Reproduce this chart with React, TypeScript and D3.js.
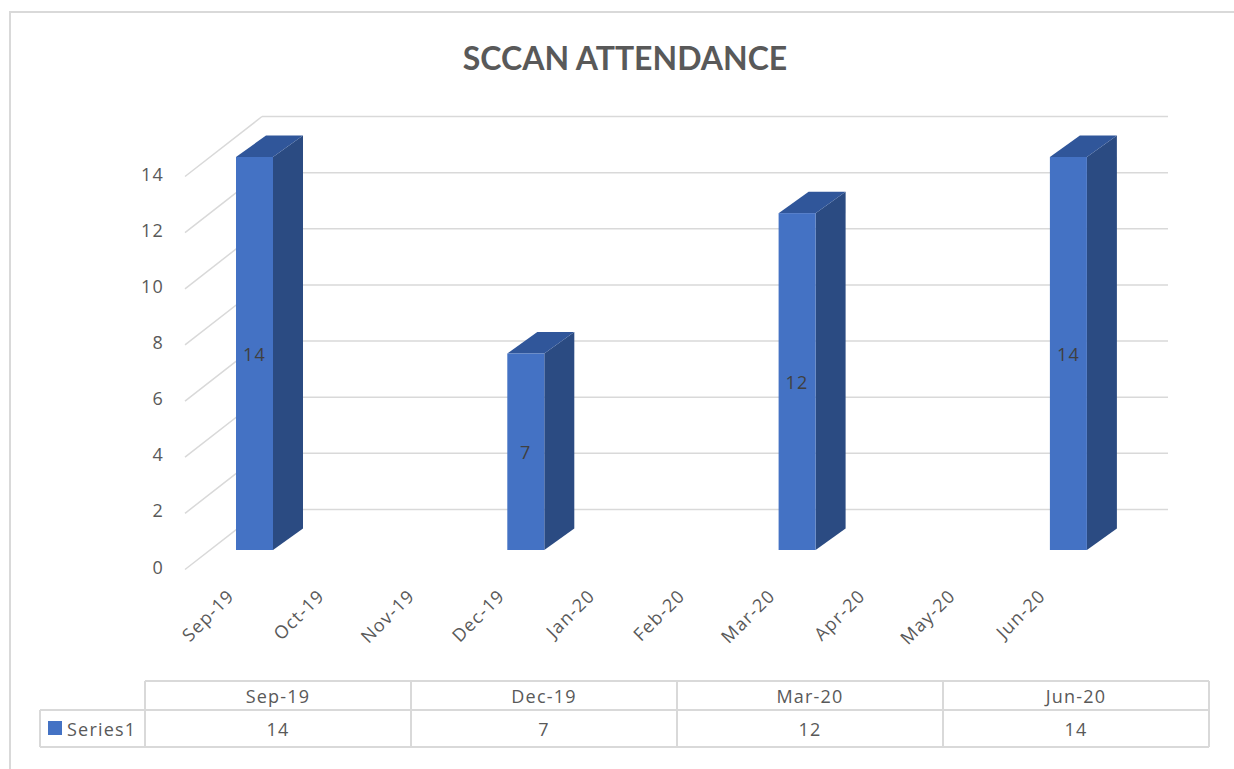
import React from "react";
import * as d3 from "d3";

const title = "SCCAN ATTENDANCE";
const months = ["Sep-19", "Oct-19", "Nov-19", "Dec-19", "Jan-20", "Feb-20", "Mar-20", "Apr-20", "May-20", "Jun-20"];
const seriesName = "Series1";
const dataCats = ["Sep-19", "Dec-19", "Mar-20", "Jun-20"];
const dataValues = [14, 7, 12, 14];
const yTicks = [0, 2, 4, 6, 8, 10, 12, 14];

const W = 1234;
const H = 769;
const FONT = "'Open Sans', Lato, sans-serif";
const TFONT = "Lato, 'Open Sans', sans-serif";
const FS = 18;
const LS = 1.2;
const TXT = "#595959";
const GRID = "#d9d9d9";
const FRONT = "#4472C4";
const SIDE = "#2B4B82";
const TOP = "#30569A";

export default function App() {
  const yBack = d3.scaleLinear().domain([0, 14]).range([509.5, 116.5]);
  const wallDX = 77;
  const wallDY = 60;
  const wallFrontX = 185;
  const wallBackX = wallFrontX + wallDX;
  const wallRight = 1168;

  const x = d3.scalePoint<string>().domain(months).range([254.5, 1068.4]);
  const barW = 37;
  const barDX = 30;
  const barDY = 21.5;
  const barOff = 40.5;

  const tableX = d3.scaleBand<string>().domain(dataCats).range([145, 1209]);
  const tTop = 681;
  const tMid = 710;
  const tBot = 747;
  const tLeft = 40;

  const txt = { fontFamily: FONT, fontSize: FS, fill: TXT, letterSpacing: LS } as const;

  return (
    <svg width={W} height={H} style={{ position: "absolute", left: 0, top: 0, background: "#fff" }}>
      <rect x={10} y={12} width={1300} height={900} fill="#fff" stroke={GRID} strokeWidth={2} />
      <text x={625} y={57} textAnchor="middle" dominantBaseline="central" fontFamily={TFONT} fontWeight={700} fontSize={32} fill={TXT}>
        {title}
      </text>

      {yTicks.map((t) => (
        <g key={t}>
          <line x1={wallFrontX} y1={yBack(t) + wallDY} x2={wallBackX} y2={yBack(t)} stroke={GRID} strokeWidth={1.5} />
          <line x1={wallBackX} y1={yBack(t)} x2={wallRight} y2={yBack(t)} stroke={GRID} strokeWidth={1.5} />
          <text x={164} y={yBack(t) + wallDY - 3} textAnchor="end" dominantBaseline="central" {...txt}>
            {t}
          </text>
        </g>
      ))}

      {dataCats.map((c, i) => {
        const v = dataValues[i];
        const cx = x(c)!;
        const x0 = cx - barW / 2;
        const x1 = cx + barW / 2;
        const yb = yBack(0) + barOff;
        const yt = yBack(v) + barOff;
        return (
          <g key={c}>
            <polygon
              points={`${x1},${yb} ${x1 + barDX},${yb - barDY} ${x1 + barDX},${yt - barDY} ${x1},${yt}`}
              fill={SIDE}
            />
            <polygon
              points={`${x0},${yt} ${x1},${yt} ${x1 + barDX},${yt - barDY} ${x0 + barDX},${yt - barDY}`}
              fill={TOP}
            />
            <rect x={x0} y={yt} width={barW} height={yb - yt} fill={FRONT} />
            <text x={cx} y={(yt + yb) / 2} textAnchor="middle" dominantBaseline="central" {...txt} fill="#404040">
              {v}
            </text>
          </g>
        );
      })}

      {months.map((m, i) => {
        const ax = x(m)! - 19 - i * 0.3;
        const ay = 597;
        return (
          <text key={m} x={ax} y={ay} textAnchor="end" transform={`rotate(-45 ${ax} ${ay})`} {...txt}>
            {m}
          </text>
        );
      })}

      <g stroke={GRID} strokeWidth={2} fill="none">
        <line x1={tableX.range()[0]} y1={tTop} x2={tableX.range()[1]} y2={tTop} />
        <line x1={tLeft} y1={tMid} x2={tableX.range()[1]} y2={tMid} />
        <line x1={tLeft} y1={tBot} x2={tableX.range()[1]} y2={tBot} />
        <line x1={tLeft} y1={tMid} x2={tLeft} y2={tBot} />
        {dataCats.map((c) => (
          <line key={c} x1={tableX(c)!} y1={tTop} x2={tableX(c)!} y2={tBot} />
        ))}
        <line x1={tableX.range()[1]} y1={tTop} x2={tableX.range()[1]} y2={tBot} />
      </g>
      {dataCats.map((c, i) => (
        <g key={c}>
          <text x={tableX(c)! + tableX.bandwidth() / 2} y={(tTop + tMid) / 2} textAnchor="middle" dominantBaseline="central" {...txt}>
            {c}
          </text>
          <text x={tableX(c)! + tableX.bandwidth() / 2} y={(tMid + tBot) / 2} textAnchor="middle" dominantBaseline="central" {...txt}>
            {dataValues[i]}
          </text>
        </g>
      ))}
      <rect x={48} y={721} width={14} height={14} fill={FRONT} />
      <text x={67} y={(tMid + tBot) / 2} dominantBaseline="central" {...txt}>
        {seriesName}
      </text>
    </svg>
  );
}
